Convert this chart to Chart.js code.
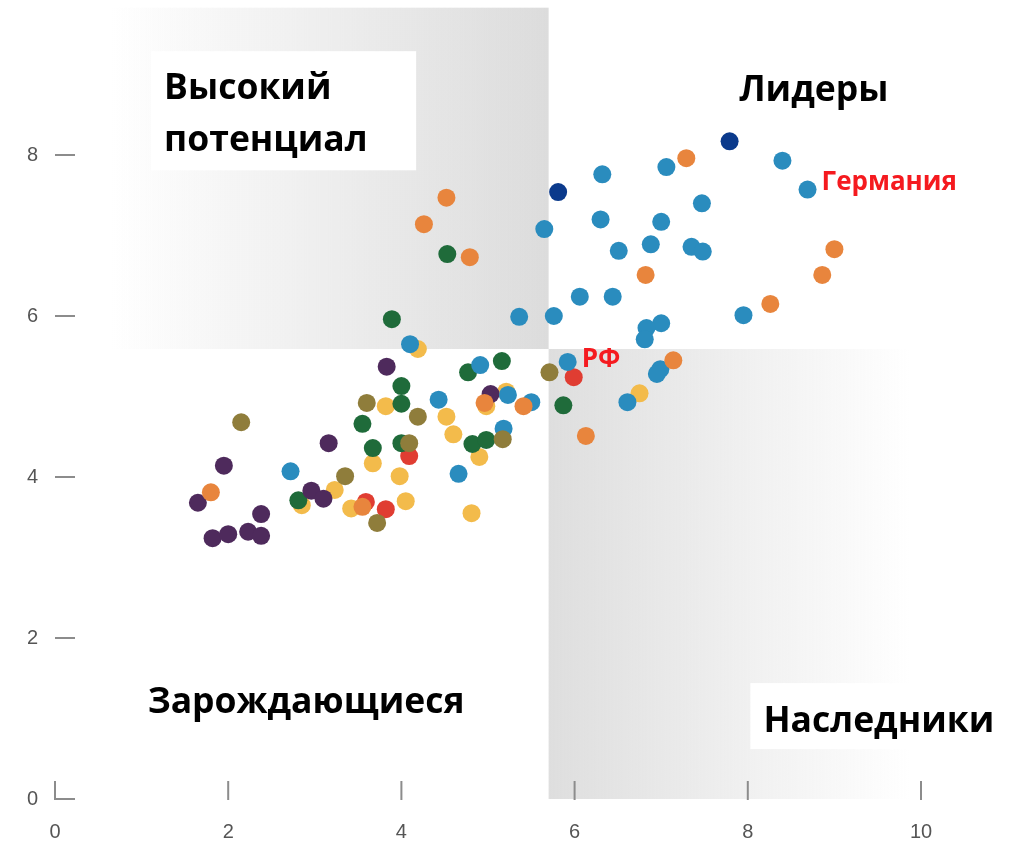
<!DOCTYPE html>
<html><head><meta charset="utf-8">
<script src="https://cdn.jsdelivr.net/npm/chart.js@4.4.1/dist/chart.umd.min.js"></script>
<style>
html,body{margin:0;padding:0;background:#fff;overflow:hidden}
#wrap{position:relative;width:1010px;height:842px;overflow:hidden}
#c{position:absolute;left:0;top:-40px}
</style></head><body>
<div id="wrap"><canvas id="c" width="1010" height="882"></canvas></div>
<script>
// ---- tick labels ----
const xTicks = [0, 2, 4, 6, 8, 10];
const yTicks = [0, 2, 4, 6, 8, 10];

// ---- series values (by colour group) ----
const navyX = [5.81, 7.79];
const navyY = [7.54, 8.17];

const orangeX = [4.52, 4.26, 4.79, 7.29, 9.00, 8.86, 6.82, 8.26, 7.14, 4.96, 5.41, 6.13, 1.80, 3.55];
const orangeY = [7.47, 7.14, 6.73, 7.96, 6.83, 6.51, 6.51, 6.15, 5.45, 4.92, 4.88, 4.51, 3.81, 3.63];

const oliveX = [5.71, 3.60, 4.19, 4.09, 5.17, 2.15, 3.35, 3.72];
const oliveY = [5.30, 4.92, 4.75, 4.42, 4.47, 4.68, 4.01, 3.43];

const blueX = [2.72, 4.10, 4.43, 4.66, 4.91, 5.23, 5.18, 5.50, 5.36, 5.76, 5.65, 6.06, 6.44, 5.92, 6.32, 6.30,
               6.51, 6.88, 7.00, 7.06, 7.35, 7.48, 7.47, 8.40, 8.69, 7.95, 7.00, 6.83, 6.81, 6.99, 6.95, 6.61];
const blueY = [4.07, 5.65, 4.96, 4.04, 5.39, 5.02, 4.60, 4.93, 5.99, 6.00, 7.08, 6.24, 6.24, 5.43, 7.76, 7.20,
               6.81, 6.89, 7.17, 7.85, 6.86, 6.80, 7.40, 7.93, 7.57, 6.01, 5.91, 5.85, 5.71, 5.34, 5.28, 4.93];

const purpleX = [3.83, 5.03, 3.16, 1.95, 2.96, 3.10, 1.65, 2.38, 1.82, 2.00, 2.23, 2.38];
const purpleY = [5.37, 5.03, 4.42, 4.14, 3.83, 3.73, 3.68, 3.54, 3.24, 3.29, 3.32, 3.27];

const greenX = [4.53, 3.89, 4.77, 5.16, 4.00, 4.00, 3.55, 4.00, 3.67, 4.82, 4.98, 5.87, 2.81];
const greenY = [6.77, 5.96, 5.30, 5.44, 5.13, 4.91, 4.66, 4.42, 4.36, 4.41, 4.46, 4.89, 3.71];

const redX = [5.99, 4.09, 3.59, 3.82];
const redY = [5.24, 4.26, 3.69, 3.60];

const yellowX = [4.19, 3.82, 5.21, 4.98, 4.52, 4.60, 4.90, 3.67, 3.98, 3.23, 2.85, 4.05, 3.42, 4.81, 6.75];
const yellowY = [5.59, 4.88, 5.06, 4.88, 4.75, 4.53, 4.25, 4.17, 4.01, 3.84, 3.65, 3.70, 3.61, 3.55, 5.04];

// quadrant split
const splitX = 5.70;
const splitY = 5.59;

// ---- styling (kept apart from data) ----
const groups = [
  { name: 'navy',   color: '#0b3a8c', x: navyX,   y: navyY },
  { name: 'orange', color: '#e8853d', x: orangeX, y: orangeY },
  { name: 'olive',  color: '#8f7d3b', x: oliveX,  y: oliveY },
  { name: 'blue',   color: '#2a8cbe', x: blueX,   y: blueY },
  { name: 'purple', color: '#4e2a5c', x: purpleX, y: purpleY },
  { name: 'green',  color: '#1f6b3a', x: greenX,  y: greenY },
  { name: 'red',    color: '#e03d32', x: redX,    y: redY },
  { name: 'yellow', color: '#f3bb4b', x: yellowX, y: yellowY }
];

const BOLD = '700 35.5px "Open Sans", "Noto Sans", sans-serif';
const RED = '700 26px "Open Sans", "Noto Sans", sans-serif';

const quadBg = {
  id: 'quadBg',
  beforeDraw(chart) {
    const { ctx, scales: { x, y } } = chart;
    const sx = x.getPixelForValue(splitX), sy = y.getPixelForValue(splitY);
    ctx.save();
    // top-left: white -> grey
    const l1 = x.getPixelForValue(0.65), t1 = y.getPixelForValue(9.83);
    let g = ctx.createLinearGradient(l1, 0, sx, 0);
    g.addColorStop(0, 'rgba(220,220,220,0)');
    g.addColorStop(1, 'rgb(220,220,220)');
    ctx.fillStyle = g;
    ctx.fillRect(l1, t1, sx - l1, sy - t1);
    // bottom-right: grey -> white
    const r2 = x.getPixelForValue(10.91), b2 = y.getPixelForValue(0);
    g = ctx.createLinearGradient(sx, 0, r2, 0);
    g.addColorStop(0, 'rgb(222,222,222)');
    g.addColorStop(0.8, 'rgba(222,222,222,0)');
    g.addColorStop(1, 'rgba(222,222,222,0)');
    ctx.fillStyle = g;
    ctx.fillRect(sx, sy, r2 - sx, b2 - sy);
    // white label boxes
    ctx.fillStyle = '#ffffff';
    const bx = (x0, x1, y0, y1) => {
      const a = x.getPixelForValue(x0), b = x.getPixelForValue(x1);
      const c = y.getPixelForValue(y0), d = y.getPixelForValue(y1);
      ctx.fillRect(a, c, b - a, d - c);
    };
    bx(1.11, 4.17, 9.29, 7.81);
    bx(8.03, 10.91, 1.44, 0.62);
    ctx.restore();
  },
  beforeDatasetsDraw(chart) {
    const { ctx, chartArea, scales: { x, y } } = chart;
    ctx.save();
    ctx.strokeStyle = '#8c8c8c';
    ctx.lineWidth = 2;
    ctx.beginPath();
    yTicks.forEach(v => {
      const py = y.getPixelForValue(v);
      ctx.moveTo(chartArea.left, py);
      ctx.lineTo(chartArea.left + 20, py);
    });
    xTicks.forEach(v => {
      const px = x.getPixelForValue(v);
      ctx.moveTo(px, chartArea.bottom + 1);
      ctx.lineTo(px, chartArea.bottom - 18);
    });
    ctx.stroke();
    ctx.restore();
  },
  afterDraw(chart) {
    const { ctx, scales: { x, y } } = chart;
    ctx.save();
    ctx.textBaseline = 'alphabetic';
    ctx.textAlign = 'left';
    ctx.fillStyle = '#000';
    ctx.font = BOLD;
    const t = (s, dx, dy) => ctx.fillText(s, x.getPixelForValue(dx), y.getPixelForValue(dy));
    t('Высокий', 1.26, 8.70);
    t('потенциал', 1.26, 8.05);
    t('Лидеры', 7.90, 8.67);
    t('Зарождающиеся', 1.07, 1.07);
    t('Наследники', 8.18, 0.83);
    // red point labels, offset from their points
    ctx.fillStyle = '#f51a1f';
    ctx.font = RED;
    ctx.textBaseline = 'middle';
    const ger = { x: blueX[24], y: blueY[24] };
    const rf = { x: redX[0], y: redY[0] };
    ctx.fillText('Германия', x.getPixelForValue(ger.x) + 14, y.getPixelForValue(ger.y) - 7);
    ctx.fillText('РФ', x.getPixelForValue(rf.x) + 8, y.getPixelForValue(rf.y) - 18);
    ctx.restore();
  }
};

new Chart(document.getElementById('c'), {
  type: 'scatter',
  data: {
    datasets: groups.map((g, i) => ({
      label: g.name,
      data: g.x.map((v, k) => ({ x: v, y: g.y[k] })),
      backgroundColor: g.color,
      borderColor: g.color,
      borderWidth: 0,
      pointRadius: 9,
      pointHoverRadius: 9,
      order: i
    }))
  },
  options: {
    responsive: false,
    animation: false,
    events: [],
    layout: { padding: { top: 34, right: 89, left: 0, bottom: 0 } },
    plugins: { legend: { display: false }, tooltip: { enabled: false } },
    scales: {
      x: {
        type: 'linear', min: 0, max: 10,
        afterBuildTicks: s => { s.ticks = xTicks.map(v => ({ value: v })); },
        afterFit: s => { s.height = 43; },
        grid: { display: false, drawTicks: false },
        border: { display: false },
        ticks: { padding: 21, color: '#555', font: { family: '"Liberation Sans", Arial, sans-serif', size: 20 } }
      },
      y: {
        type: 'linear', min: 0, max: 10,
        afterBuildTicks: s => { s.ticks = yTicks.map(v => ({ value: v })); },
        afterFit: s => { s.width = 55; },
        grid: { display: false, drawTicks: false },
        border: { display: false },
        ticks: { padding: 17, color: '#555', font: { family: '"Liberation Sans", Arial, sans-serif', size: 20 } }
      }
    }
  },
  plugins: [quadBg]
});
</script>
</body></html>
